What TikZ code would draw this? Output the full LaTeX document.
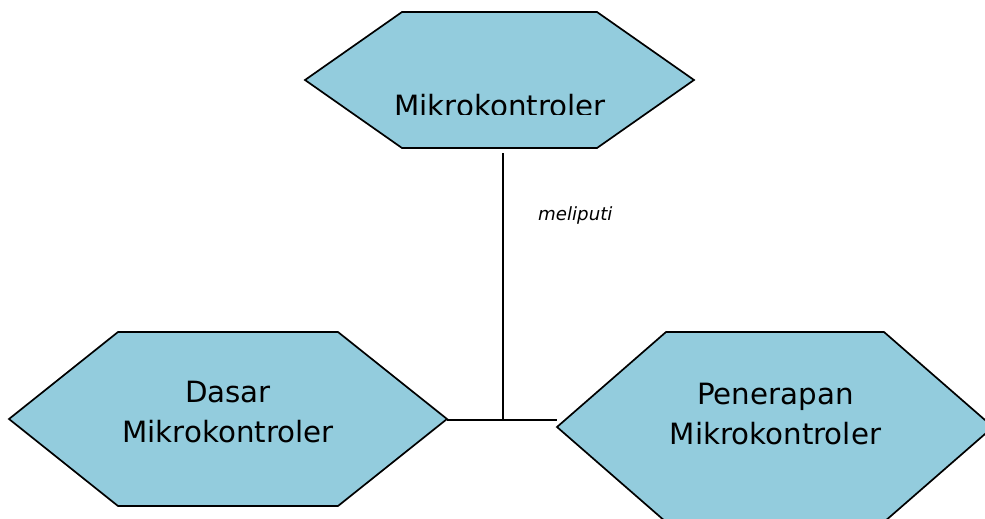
\documentclass[tikz,border=0pt]{standalone}
\usepackage{fontspec}
\setmainfont{DejaVu Sans}
\definecolor{hexfill}{HTML}{93CCDD}
\tikzset{
  hexshape/.style={fill=hexfill, draw=black, line width=1.7pt, line join=miter},
  hexlabel/.style={inner sep=0pt, align=center, font=\fontsize{29.3}{40}\selectfont},
  conn/.style={draw=black, line width=1.7pt},
  linklabel/.style={inner sep=0pt, font=\fontsize{18.2}{22}\selectfont\itshape}
}
\begin{document}
\begin{tikzpicture}[x=1pt,y=-1pt]
\clip (0,0) rectangle (985,519);
\fill[white] (0,0) rectangle (985,519);
% top hexagon
\draw[hexshape] (305,80) -- (402,12) -- (597,12) -- (694,80) -- (597,148) -- (402,148) -- cycle;
\coordinate (topB) at (503,153);
% left hexagon
\draw[hexshape] (9,419) -- (118,332) -- (338,332) -- (447,419) -- (338,506) -- (118,506) -- cycle;
\coordinate (leftR) at (447,420);
% right hexagon
\draw[hexshape] (557,427) -- (666,332) -- (884,332) -- (993,427) -- (884,522) -- (666,522) -- cycle;
\coordinate (rightL) at (557,420);
\coordinate (junc) at (503,420);
% labels
\begin{scope}
\clip (300,0) rectangle (700,114.5);
\node[hexlabel, anchor=base] (top) at (500,116) {Mikrokontroler};
\end{scope}
\node[hexlabel] (dasar) at (228,412.5) {Dasar\\Mikrokontroler};
\node[hexlabel] (penerapan) at (775.5,414.5) {Penerapan\\Mikrokontroler};
% connectors
\draw[conn] (topB) -- (junc);
\draw[conn] (leftR) -- (rightL);
\node[linklabel, anchor=base west] (meliputi) at (538,220) {meliputi};
\end{tikzpicture}
\end{document}
